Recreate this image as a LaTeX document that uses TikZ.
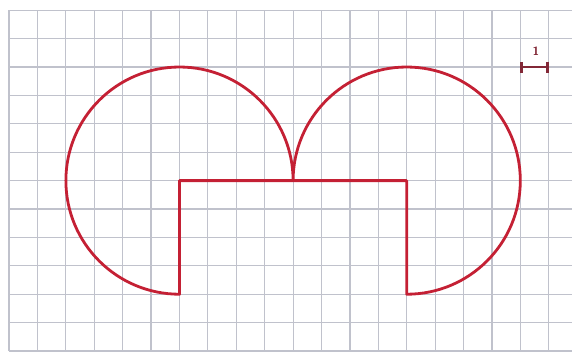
\documentclass[tikz,border=0pt]{standalone}
\usetikzlibrary{arrows.meta}
\definecolor{gridgray}{RGB}{192,194,204}
\definecolor{curvered}{RGB}{196,32,52}
\definecolor{barred}{RGB}{130,40,55}
\begin{document}
\begin{tikzpicture}[line width=0.6pt]
  \useasboundingbox (-0.32,-0.18) rectangle (19.82,12.36);
  \draw[gridgray, line width=1.2pt] (0,0) grid (19.82,12);
  % figure: two three-quarter circles on the step
  \draw[curvered, line width=2.8pt, line join=round]
    (6,2) -- (6,6) -- (14,6) -- (14,2)
    arc[start angle=-90, end angle=180, radius=4]
    arc[start angle=0, end angle=270, radius=4] -- cycle;
  % unit bar
  \draw[barred, line width=2.6pt, {Bar[width=11pt]}-{Bar[width=11pt]}] (18,10) -- (19,10);
  \node[barred, font=\sffamily\bfseries\large, inner sep=1pt] (unit) at (18.55,10.55) {1};
\end{tikzpicture}
\end{document}
